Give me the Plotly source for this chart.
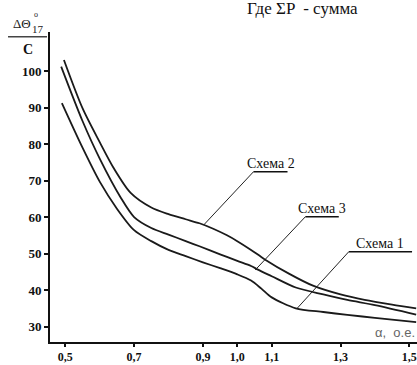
import plotly.graph_objects as go

# ---- data ----
x1 = [0.49, 0.55, 0.60, 0.65, 0.70, 0.75, 0.80, 0.85, 0.90, 0.95, 1.00, 1.04, 1.07, 1.10, 1.17, 1.25, 1.32, 1.40, 1.52]
y1 = [91.2, 79.0, 69.7, 62.3, 56.4, 53.4, 51.0, 49.3, 47.6, 46.0, 44.3, 42.6, 40.4, 38.0, 35.0, 34.0, 33.2, 32.4, 31.2]

x3 = [0.488, 0.55, 0.60, 0.66, 0.70, 0.75, 0.80, 0.85, 0.89, 0.95, 1.00, 1.04, 1.06, 1.10, 1.17, 1.25, 1.32, 1.40, 1.52]
y3 = [101.2, 86.3, 76.0, 65.5, 60.0, 57.0, 55.2, 53.4, 52.0, 49.8, 48.0, 46.6, 45.6, 43.8, 40.7, 38.8, 37.3, 35.9, 33.3]

x2 = [0.496, 0.55, 0.60, 0.64, 0.69, 0.75, 0.80, 0.85, 0.89, 0.93, 0.97, 1.00, 1.04, 1.08, 1.15, 1.22, 1.30, 1.37, 1.45, 1.52]
y2 = [103.0, 89.8, 80.5, 73.5, 66.6, 62.6, 60.8, 59.4, 58.3, 56.8, 55.0, 53.4, 51.0, 48.4, 44.5, 41.2, 38.8, 37.3, 36.0, 35.0]

x_ticks = [0.5, 0.7, 0.9, 1.0, 1.1, 1.3, 1.5]
x_tick_labels = ["0,5", "0,7", "0,9", "1,0", "1,1", "1,3", "1,5"]
y_ticks = [30, 40, 50, 60, 70, 80, 90, 100]
y_tick_labels = ["30", "40", "50", "60", "70", "80", "90", "100"]

labels = ["Схема 2", "Схема 3", "Схема 1"]
# leader line: point on curve -> elbow -> end of underline
leader_x = [[0.902, 1.047, 1.146], [1.052, 1.198, 1.295], [1.174, 1.324, 1.508]]
leader_y = [[57.8, 72.4, 72.4], [45.5, 60.1, 60.1], [35.0, 50.5, 50.5]]

X_RANGE = [0.4555, 1.5224]
Y_RANGE = [25.78, 110.68]

SERIF = "Liberation Serif"
fig = go.Figure()

for xs, ys in [(x1, y1), (x3, y3), (x2, y2)]:
    fig.add_trace(go.Scatter(x=xs, y=ys, mode="lines",
                             line=dict(color="#1a1a1a", width=1.8, shape="spline", smoothing=0.8),
                             showlegend=False, hoverinfo="skip"))

shapes = []
annotations = []
for name, lx, ly in zip(labels, leader_x, leader_y):
    shapes.append(dict(type="line", xref="x", yref="y", x0=lx[0], y0=ly[0], x1=lx[1], y1=ly[1],
                       line=dict(color="#222", width=1)))
    shapes.append(dict(type="line", xref="x", yref="y", x0=lx[1], y0=ly[1], x1=lx[2], y1=ly[2],
                       line=dict(color="#111", width=1.6)))
    annotations.append(dict(x=(lx[1] + lx[2]) / 2, y=ly[1], xref="x", yref="y", text=name,
                            showarrow=False, xanchor="center", yanchor="bottom", yshift=-1,
                            font=dict(family=SERIF, size=14, color="#111")))

# axis title (fraction)
annotations += [
    dict(x=-0.0763, y=1.029, xref="paper", yref="paper", text="ΔΘ", showarrow=False,
         xanchor="center", yanchor="middle", font=dict(family=SERIF, size=13, color="#222")),
    dict(x=-0.0395, y=1.055, xref="paper", yref="paper", text="o", showarrow=False,
         xanchor="center", yanchor="middle", font=dict(family=SERIF, size=8, color="#222")),
    dict(x=-0.033, y=1.011, xref="paper", yref="paper", text="17", showarrow=False,
         xanchor="center", yanchor="middle", font=dict(family=SERIF, size=11, color="#222")),
    dict(x=-0.0613, y=0.942, xref="paper", yref="paper", text="<b>C</b>", showarrow=False,
         xanchor="center", yanchor="middle", font=dict(family=SERIF, size=14, color="#111")),
    dict(x=1.0, y=(342 - 332) / 310, xref="paper", yref="paper", text="α,  о.е.", showarrow=False,
         xanchor="right", yanchor="middle", font=dict(family="Liberation Sans", size=13, color="#666")),
    dict(x=(245 - 50) / 367, y=(342 - 8.5) / 310, xref="paper", yref="paper",
         text="Где ΣP  - сумма", showarrow=False,
         xanchor="left", yanchor="middle", font=dict(family=SERIF, size=17, color="#111")),
]
shapes.append(dict(type="line", xref="paper", yref="paper", x0=-0.1144, x1=-0.0082,
                   y0=0.985, y1=0.985, line=dict(color="#444", width=1.5)))

fig.update_layout(
    width=417, height=365,
    margin=dict(l=50, r=0, t=32, b=23),
    plot_bgcolor="white", paper_bgcolor="white",
    shapes=shapes, annotations=annotations,
    showlegend=False,
)
fig.update_xaxes(range=X_RANGE, tickvals=x_ticks, ticktext=x_tick_labels,
                 showgrid=False, zeroline=False, showline=True, linecolor="#111", linewidth=2,
                 ticks="outside", ticklen=3, tickwidth=1.5, tickcolor="#111", automargin=False,
                 ticklabeloverflow="allow",
                 tickfont=dict(family=SERIF, size=12, color="#111", weight="bold"))
fig.update_yaxes(range=Y_RANGE, tickvals=y_ticks, ticktext=y_tick_labels,
                 showgrid=False, zeroline=False, showline=True, linecolor="#111", linewidth=2,
                 ticks="outside", ticklen=4, tickwidth=1.5, tickcolor="#111", automargin=False,
                 tickfont=dict(family=SERIF, size=13, color="#111", weight="bold"))

fig.write_html("out.html", config={"displayModeBar": False},
               post_script="document.body.style.margin='0';document.body.style.overflow='hidden';")
